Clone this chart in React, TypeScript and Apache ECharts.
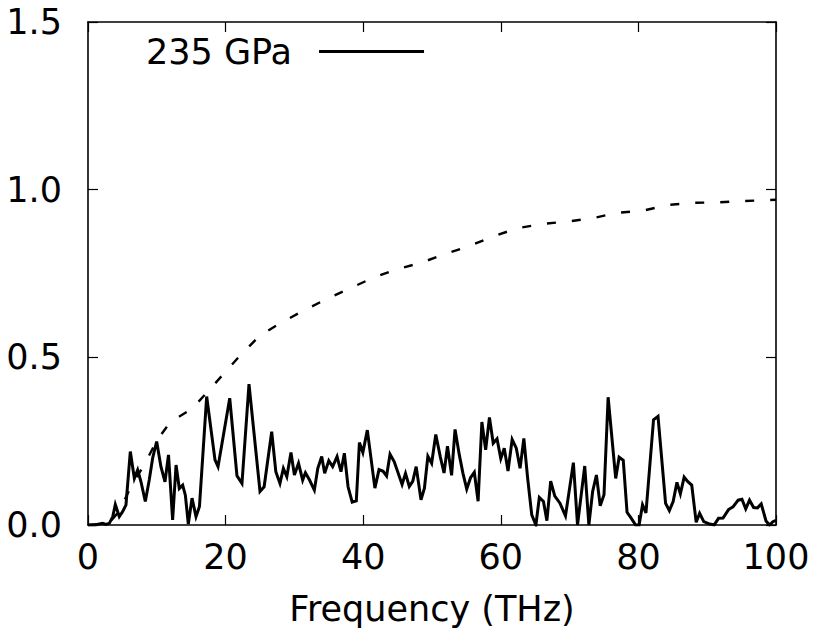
import React, { useEffect, useRef } from "react";
import * as echarts from "echarts";

// Solid line: spectral function at 235 GPa (frequency in THz, value)
const solidFreq: number[] = [
  0, 1.0, 1.65, 2.13, 2.62, 3.1, 3.6, 3.97, 4.55, 5.04, 5.52, 6.15, 6.74, 7.22, 7.7, 8.33, 8.9, 9.4, 9.98,
  10.6, 11.19, 11.7, 12.3, 12.8, 13.27, 13.76, 14.15, 14.58, 15.12, 15.7, 16.2, 17.25, 18.46, 18.9, 20.6,
  21.65, 22.38, 23.4, 25.0, 25.6, 26.7, 27.3, 27.9, 28.4, 28.9, 29.5, 30.0, 30.6, 31.2, 31.6, 32.2, 32.9,
  33.4, 33.97, 34.4, 35.0, 35.56, 36.2, 36.77, 37.26, 37.8, 38.4, 39.0, 39.45, 39.95, 40.6, 41.7, 42.3,
  42.9, 43.4, 43.9, 44.5, 45.65, 46.15, 46.7, 47.2, 47.7, 48.4, 48.9, 49.4, 49.95, 50.55, 51.2, 51.75,
  52.25, 52.85, 53.35, 53.97, 54.5, 55.05, 55.6, 56.15, 56.7, 57.25, 57.8, 58.35, 58.9, 59.45, 60.0, 60.5,
  61.05, 61.65, 62.25, 62.8, 63.35, 63.9, 64.5, 65.1, 65.6, 66.2, 66.7, 67.25, 67.85, 68.6, 69.4, 70.55,
  71.15, 72.2, 72.8, 73.35, 73.9, 74.45, 75.0, 75.6, 76.7, 77.2, 77.8, 78.35, 78.9, 79.6, 80.1, 80.6,
  81.1, 82.2, 82.85, 83.95, 84.5, 85.05, 85.6, 86.1, 86.65, 87.15, 87.75, 88.4, 88.9, 89.5, 90.2, 91.0,
  91.65, 92.3, 93.1, 93.75, 94.5, 95.05, 95.6, 96.15, 96.75, 97.3, 97.85, 98.55, 99.05, 99.55, 100,
];
const solidValue: number[] = [
  0, 0, 0.003, 0.005, 0.002, 0.005, 0.025, 0.061, 0.025, 0.04, 0.06, 0.219, 0.139, 0.164, 0.129, 0.07, 0.134, 0.2, 0.249,
  0.174, 0.129, 0.209, 0.015, 0.179, 0.109, 0.119, 0.089, 0.003, 0.08, 0.025, 0.055, 0.383, 0.194, 0.174, 0.378,
  0.147, 0.124, 0.42, 0.1, 0.114, 0.278, 0.159, 0.124, 0.169, 0.144, 0.216, 0.149, 0.184, 0.134, 0.156, 0.134, 0.104,
  0.169, 0.204, 0.154, 0.192, 0.174, 0.204, 0.159, 0.214, 0.114, 0.068, 0.072, 0.246, 0.216, 0.283, 0.11, 0.165,
  0.16, 0.146, 0.211, 0.189, 0.121, 0.154, 0.115, 0.13, 0.174, 0.075, 0.11, 0.205, 0.184, 0.27, 0.204, 0.155,
  0.235, 0.148, 0.285, 0.209, 0.154, 0.107, 0.141, 0.157, 0.071, 0.307, 0.224, 0.321, 0.244, 0.257, 0.198, 0.229,
  0.161, 0.255, 0.229, 0.169, 0.258, 0.14, 0.03, 0, 0.082, 0.07, 0.013, 0.131, 0.086, 0.065, 0.027, 0.186,
  0, 0.176, 0, 0.1, 0.149, 0.057, 0.09, 0.381, 0.139, 0.202, 0.193, 0.038, 0.022, 0, 0, 0.06,
  0.036, 0.314, 0.324, 0.065, 0.043, 0.07, 0.127, 0.093, 0.143, 0.13, 0.119, 0.008, 0.035, 0.01, 0.004, 0,
  0.02, 0.021, 0.046, 0.054, 0.074, 0.077, 0.048, 0.074, 0.052, 0.051, 0.063, 0.012, 0, 0.01, 0.014,
];

// Dashed line: cumulative (normalised) curve
const cumFreq: number[] = [
  0, 3, 4.5, 6.3, 8.3, 10.0, 12.0, 15.1, 17.5, 19.9, 22.4, 25.0, 28.05, 31.3, 34.6, 38.0, 41.3, 44.8,
  48.4, 51.9, 55.4, 58.8, 62.4, 66.1, 69.7, 73.4, 76.9, 80.6, 84.2, 87.9, 91.6, 95.2, 100,
];
const cumValue: number[] = [
  0, 0.005, 0.04, 0.117, 0.184, 0.252, 0.308, 0.346, 0.4, 0.455, 0.512, 0.565, 0.603, 0.639, 0.673, 0.705, 0.736, 0.762,
  0.782, 0.808, 0.832, 0.86, 0.885, 0.898, 0.905, 0.915, 0.931, 0.937, 0.954, 0.961, 0.962, 0.966, 0.97,
];

const xTicks = { min: 0, max: 100, interval: 20 };
const yTicks = { min: 0, max: 1.5, interval: 0.5 };
const seriesName = "235 GPa";
const xName = "Frequency (THz)";

const FONT = "DejaVu Sans";
const FS = 35;

export default function App() {
  const ref = useRef<HTMLDivElement>(null);
  useEffect(() => {
    if (!ref.current) return;
    const chart = echarts.init(ref.current, undefined, { renderer: "svg" });
    const axisLine = { show: true, onZero: false, lineStyle: { color: "#000", width: 1.6 } };
    const tick = { show: true, inside: true, length: 10, lineStyle: { color: "#000", width: 1.2 } };
    const labelStyle = { color: "#000", fontSize: FS, fontFamily: FONT };
    chart.setOption({
      animation: false,
      backgroundColor: "#fff",
      grid: { left: 88, right: 46, top: 22, bottom: 118, containLabel: false },
      legend: {
        data: [seriesName],
        left: 141,
        top: 29,
        align: "right",
        icon: "rect",
        itemWidth: 105,
        itemHeight: 2.8,
        itemStyle: { color: "#000" },
        textStyle: { ...labelStyle, padding: [0, 22, 0, 0] },
      },
      xAxis: [
        {
          type: "value",
          position: "bottom",
          ...xTicks,
          axisLine,
          axisTick: tick,
          splitLine: { show: false },
          axisLabel: { ...labelStyle, margin: 14 },
          name: xName,
          nameLocation: "middle",
          nameGap: 66,
          nameTextStyle: labelStyle,
        },
        {
          type: "value",
          position: "top",
          ...xTicks,
          axisLine,
          axisTick: tick,
          splitLine: { show: false },
          axisLabel: { show: false },
        },
      ],
      yAxis: [
        {
          type: "value",
          position: "left",
          ...yTicks,
          axisLine,
          axisTick: tick,
          splitLine: { show: false },
          axisLabel: { ...labelStyle, margin: 26, formatter: (v: number) => v.toFixed(1) },
        },
        {
          type: "value",
          position: "right",
          ...yTicks,
          axisLine,
          axisTick: tick,
          splitLine: { show: false },
          axisLabel: { show: false },
        },
      ],
      series: [
        {
          name: seriesName,
          type: "line",
          xAxisIndex: 0,
          yAxisIndex: 0,
          symbol: "none",
          lineStyle: { color: "#000", width: 3, join: "miter" },
          itemStyle: { color: "#000" },
          data: solidFreq.map((f, i) => [f, solidValue[i]]),
        },
        {
          name: "cumulative",
          type: "line",
          xAxisIndex: 0,
          yAxisIndex: 0,
          symbol: "none",
          lineStyle: { color: "#000", width: 2.4, type: [9, 16] },
          itemStyle: { color: "#000" },
          data: cumFreq.map((f, i) => [f, cumValue[i]]),
        },
      ],
    });
    return () => chart.dispose();
  }, []);
  return (
    <div
      ref={ref}
      style={{ position: "fixed", left: 0, top: 0, width: 822, height: 643, background: "#fff" }}
    />
  );
}
